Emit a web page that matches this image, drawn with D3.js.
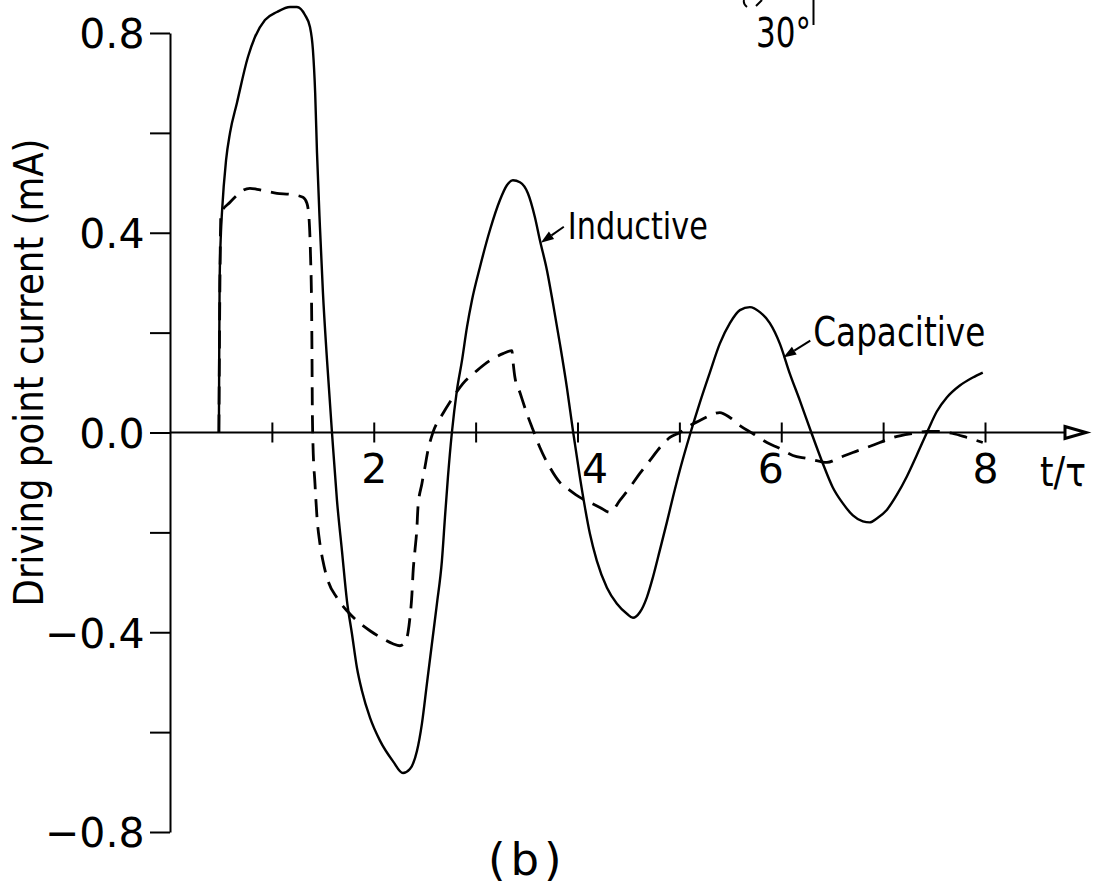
<!DOCTYPE html>
<html>
<head>
<meta charset="utf-8">
<script src="https://cdn.jsdelivr.net/npm/d3@7"></script>
<style>
  html, body { margin: 0; padding: 0; background: #fff; }
  svg { display: block; }
  text { font-family: "DejaVu Sans", sans-serif; fill: #000; }
</style>
</head>
<body>
<svg id="chart" width="1099" height="887"></svg>
<script>
// Driving point current versus normalised time t/τ.
// Solid trace
const timeSolid = [
  0.48, 0.483, 0.487, 0.50, 0.51, 0.55, 0.589, 0.657, 0.765, 0.834, 0.932, 1.05,
  1.178, 1.246, 1.325, 1.374, 1.403, 1.425, 1.443, 1.472, 1.501, 1.541, 1.59,
  1.639, 1.688, 1.737, 1.786, 1.835, 1.884, 1.963, 2.061, 2.188, 2.287, 2.355,
  2.424, 2.473, 2.522, 2.571, 2.62, 2.669, 2.699, 2.728, 2.767, 2.816, 2.866,
  2.915, 2.964, 3.042, 3.14, 3.238, 3.307, 3.366, 3.435, 3.513, 3.582, 3.631,
  3.70, 3.759, 3.827, 3.896, 3.955, 4.024, 4.073, 4.122, 4.19, 4.289, 4.387,
  4.485, 4.544, 4.612, 4.681, 4.74, 4.809, 4.877, 4.936, 5.005, 5.074, 5.11,
  5.201, 5.299, 5.397, 5.496, 5.594, 5.692, 5.79, 5.888, 5.986, 6.084, 6.183,
  6.295, 6.408, 6.506, 6.605, 6.703, 6.801, 6.869, 6.938, 7.036, 7.134, 7.233,
  7.331, 7.439, 7.527, 7.625, 7.753, 7.88, 7.978
];
const currentSolid = [
  0.0, 0.15, 0.30, 0.40, 0.44, 0.545, 0.60, 0.66, 0.752, 0.792, 0.826, 0.842,
  0.852, 0.852, 0.836, 0.812, 0.766, 0.68, 0.56, 0.411, 0.281, 0.146, 0.0,
  -0.136, -0.237, -0.337, -0.403, -0.471, -0.517, -0.571, -0.617, -0.658, -0.682, -0.674,
  -0.638, -0.583, -0.503, -0.423, -0.343, -0.257, -0.17, -0.09, 0.0, 0.084, 0.144,
  0.211, 0.265, 0.331, 0.405, 0.465, 0.495, 0.505, 0.501, 0.479, 0.431, 0.385,
  0.325, 0.259, 0.178, 0.09, 0.004, -0.09, -0.15, -0.203, -0.257, -0.311, -0.343,
  -0.363, -0.371, -0.36, -0.33, -0.29, -0.235, -0.18, -0.13, -0.075, -0.025, 0.0,
  0.06, 0.12, 0.178, 0.219, 0.245, 0.251, 0.241, 0.219, 0.178, 0.118, 0.064,
  0.0, -0.062, -0.11, -0.142, -0.166, -0.178, -0.18, -0.172, -0.155, -0.125, -0.088,
  -0.045, 0.004, 0.042, 0.07, 0.094, 0.11, 0.12
];
// Dashed trace
const timeDashed = [
  0.48, 0.49, 0.50, 0.589, 0.657, 0.716, 0.785, 0.854, 0.952, 1.05, 1.178, 1.305,
  1.344, 1.364, 1.38, 1.39, 1.394, 1.397, 1.403, 1.423, 1.443, 1.472, 1.501, 1.551,
  1.639, 1.737, 1.835, 1.963, 2.09, 2.188, 2.257, 2.306, 2.336, 2.355, 2.375, 2.385,
  2.404, 2.424, 2.434, 2.473, 2.502, 2.532, 2.581, 2.679, 2.777, 2.875, 3.013, 3.14,
  3.268, 3.356, 3.366, 3.386, 3.435, 3.503, 3.562, 3.631, 3.729, 3.827, 3.925, 4.024,
  4.122, 4.22, 4.318, 4.416, 4.514, 4.612, 4.711, 4.809, 4.907, 5.005, 5.103, 5.201,
  5.299, 5.397, 5.496, 5.594, 5.721, 5.859, 5.986, 6.114, 6.251, 6.379, 6.448, 6.575,
  6.703, 6.84, 6.968, 7.10, 7.291, 7.429, 7.557, 7.684, 7.822, 7.978
];
const currentDashed = [
  0.0, 0.30, 0.439, 0.461, 0.475, 0.485, 0.489, 0.487, 0.483, 0.479, 0.477, 0.471,
  0.459, 0.431, 0.35, 0.25, 0.15, 0.05, -0.02, -0.102, -0.17, -0.223, -0.257, -0.297,
  -0.331, -0.357, -0.377, -0.397, -0.413, -0.423, -0.427, -0.421, -0.401, -0.371, -0.323, -0.283,
  -0.237, -0.19, -0.15, -0.102, -0.07, -0.036, 0.0, 0.038, 0.07, 0.098, 0.124, 0.144,
  0.158, 0.164, 0.144, 0.11, 0.08, 0.038, 0.006, -0.03, -0.07, -0.10, -0.116, -0.13,
  -0.14, -0.15, -0.16, -0.136, -0.11, -0.082, -0.056, -0.03, -0.01, 0.0, 0.014, 0.024,
  0.034, 0.04, 0.03, 0.014, -0.002, -0.02, -0.032, -0.046, -0.052, -0.058, -0.06, -0.05,
  -0.04, -0.03, -0.02, -0.01, -0.002, 0.002, 0.002, -0.002, -0.01, -0.02
];

// Axis ticks and their labels
const yTickValues = [-0.8, -0.6, -0.4, -0.2, 0, 0.2, 0.4, 0.6, 0.8];
const yLabelValues = [0.8, 0.4, 0, -0.4, -0.8];
const yLabelTexts = ["0.8", "0.4", "0.0", "\u22120.4", "\u22120.8"];
const xTickValues = [1, 2, 3, 4, 5, 6, 7, 8];
const xLabelValues = [2, 4, 6, 8];
const xLabelTexts = ["2", "4", "6", "8"];

// Layout
const plot = { left: 170, right: 985, top: 33, bottom: 832 };
const arrowEnd = 1086;
const xLabelNudge = { 4: 17, 6: -11 };

const svg = d3.select("#chart");
const x = d3.scaleLinear().domain([0, 8]).range([plot.left, plot.right]);
const y = d3.scaleLinear().domain([-0.8, 0.8]).range([plot.bottom, plot.top]);

// Vertical axis with outward ticks
const yAxis = d3.axisLeft(y)
  .tickValues(yTickValues)
  .tickSize(20)
  .tickSizeOuter(0)
  .tickFormat(d => {
    const i = yLabelValues.findIndex(v => Math.abs(v - d) < 1e-9);
    return i >= 0 ? yLabelTexts[i] : "";
  });
const gy = svg.append("g")
  .attr("transform", `translate(${x(0)},0)`)
  .call(yAxis)
  .attr("font-family", null).attr("font-size", null);
gy.select(".domain").attr("stroke", "#000").attr("stroke-width", 2);
gy.selectAll(".tick line").attr("stroke", "#000").attr("stroke-width", 2);
gy.selectAll(".tick text")
  .attr("x", -25.5)
  .attr("dy", "0.36em")
  .attr("font-size", 41)
  .attr("fill", "#000");

// Horizontal axis: line with arrowhead, ticks crossing the line
const y0 = y(0);
svg.append("line")
  .attr("x1", x(0)).attr("x2", arrowEnd - 20)
  .attr("y1", y0).attr("y2", y0)
  .attr("stroke", "#000").attr("stroke-width", 2);
svg.append("path")
  .attr("d", `M${arrowEnd - 21},${y0 - 6} L${arrowEnd},${y0} L${arrowEnd - 21},${y0 + 6} Z`)
  .attr("fill", "#fff").attr("stroke", "#000").attr("stroke-width", 3)
  .attr("stroke-linejoin", "miter");

const xAxis = d3.axisBottom(x)
  .tickValues(xTickValues)
  .tickSize(10)
  .tickSizeOuter(0)
  .tickFormat(d => {
    const i = xLabelValues.indexOf(d);
    return i >= 0 ? xLabelTexts[i] : "";
  });
const gx = svg.append("g")
  .attr("transform", `translate(0,${y0})`)
  .call(xAxis)
  .attr("font-family", null).attr("font-size", null);
gx.select(".domain").remove();
gx.selectAll(".tick line")
  .attr("y1", -10).attr("y2", 10)
  .attr("stroke", "#000").attr("stroke-width", 2);
gx.selectAll(".tick text")
  .attr("y", 50).attr("dy", 0)
  .attr("dx", d => xLabelNudge[d] || 0)
  .attr("font-size", 41)
  .attr("fill", "#000");

svg.append("text")
  .attr("x", 1040).attr("y", 486)
  .attr("font-size", 40)
  .attr("textLength", 46).attr("lengthAdjust", "spacingAndGlyphs")
  .text("t/\u03c4");

// Axis title
svg.append("text")
  .attr("transform", `translate(43,${(y(0.8) + y(-0.8)) / 2 - 60}) rotate(-90)`)
  .attr("text-anchor", "middle")
  .attr("font-size", 40)
  .attr("textLength", 468).attr("lengthAdjust", "spacingAndGlyphs")
  .text("Driving point current (mA)");

// Curves
const line = d3.line()
  .x(d => x(d[0]))
  .y(d => y(d[1]))
  .curve(d3.curveMonotoneX);

const solidPts = timeSolid.map((t, i) => [t, currentSolid[i]]);
const dashedPts = timeDashed.map((t, i) => [t, currentDashed[i]]);

svg.append("path")
  .datum(dashedPts)
  .attr("d", line)
  .attr("fill", "none")
  .attr("stroke", "#000")
  .attr("stroke-width", 2.8)
  .attr("stroke-dasharray", "18,10");

svg.append("path")
  .datum(solidPts)
  .attr("d", line)
  .attr("fill", "none")
  .attr("stroke", "#000")
  .attr("stroke-width", 2.4)
  .attr("stroke-linejoin", "round");

// Callout labels with pointer arrows
function callout(tipT, tipV, fromDx, fromDy, label, tx, ty, fs, len) {
  const tx0 = x(tipT), ty0 = y(tipV);
  const fx = tx0 + fromDx, fy = ty0 + fromDy;
  const ang = Math.atan2(ty0 - fy, tx0 - fx);
  const L = 13, Wd = 4.5;
  const bx = tx0 - L * Math.cos(ang), by = ty0 - L * Math.sin(ang);
  svg.append("line")
    .attr("x1", fx).attr("y1", fy).attr("x2", bx).attr("y2", by)
    .attr("stroke", "#000").attr("stroke-width", 2);
  svg.append("path")
    .attr("d", `M${tx0},${ty0} L${bx + Wd * Math.sin(ang)},${by - Wd * Math.cos(ang)} L${bx - Wd * Math.sin(ang)},${by + Wd * Math.cos(ang)} Z`)
    .attr("fill", "#000");
  svg.append("text")
    .attr("x", tx0 + tx).attr("y", ty0 + ty)
    .attr("font-size", fs)
    .attr("textLength", len).attr("lengthAdjust", "spacingAndGlyphs")
    .text(label);
}
callout(3.64, 0.38, 23, -16, "Inductive", 27, -4, 38, 140);
callout(6.02, 0.15, 27, -17, "Capacitive", 30, -12, 41, 172);

// Fragment of the inset sketch at the top edge
svg.append("text")
  .attr("x", 756).attr("y", 47)
  .attr("font-size", 40)
  .attr("textLength", 55).attr("lengthAdjust", "spacingAndGlyphs")
  .text("30\u00b0");
svg.append("line")
  .attr("x1", 813.5).attr("x2", 813.5).attr("y1", 0).attr("y2", 25)
  .attr("stroke", "#000").attr("stroke-width", 2);
svg.append("path")
  .attr("d", "M744,0 Q743,4 747,7 M762,0 L756,6")
  .attr("fill", "none").attr("stroke", "#000").attr("stroke-width", 2);

// Panel label
svg.append("text")
  .attr("x", 488).attr("y", 875)
  .attr("font-size", 45)
  .attr("letter-spacing", 5)
  .text("(b)");
</script>
</body>
</html>
